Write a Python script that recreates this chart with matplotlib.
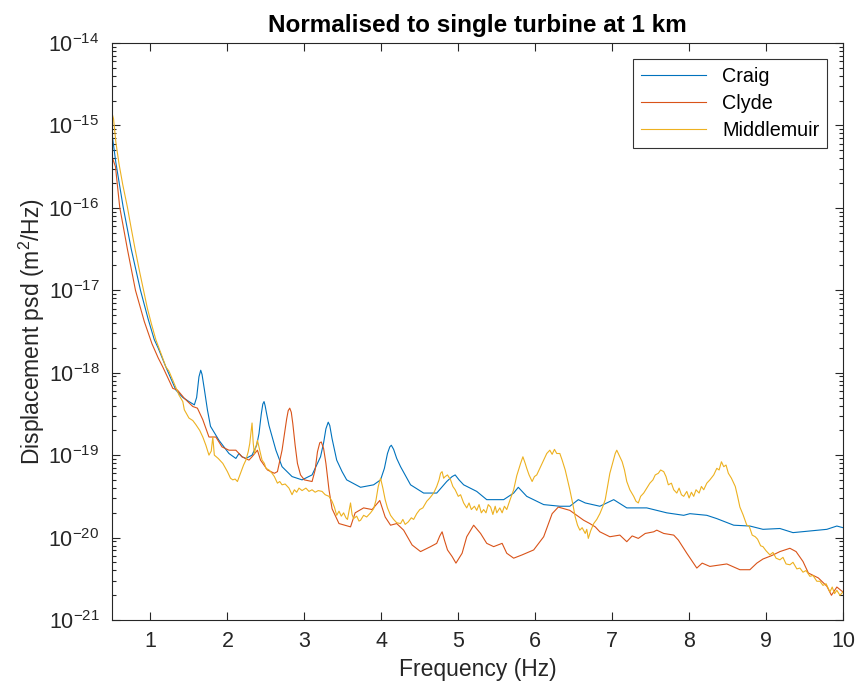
import numpy as np
import matplotlib
matplotlib.use("Agg")
import matplotlib.pyplot as plt
from matplotlib.ticker import FixedLocator, NullFormatter

# values: frequency (Hz) and log10 of psd (m^2/Hz)
craig_f = [0.50, 0.55, 0.645, 0.75, 0.87, 0.97, 1.05, 1.10, 1.20, 1.33, 1.42, 1.50, 1.57, 1.60,
           1.63, 1.653, 1.67, 1.70, 1.74, 1.78, 1.89, 2.02, 2.11, 2.15, 2.19, 2.24, 2.32, 2.38,
           2.41, 2.44, 2.46, 2.476, 2.49, 2.51, 2.54, 2.63, 2.71, 2.84, 2.97, 3.10, 3.21, 3.25,
           3.28, 3.31, 3.33, 3.36, 3.39, 3.42, 3.49, 3.55, 3.73, 3.90, 3.99, 4.04, 4.08, 4.11,
           4.13, 4.16, 4.20, 4.25, 4.38, 4.55, 4.72, 4.85, 4.92, 4.96, 5.01, 5.07, 5.24, 5.37,
           5.59, 5.72, 5.78, 5.89, 6.11, 6.32, 6.45, 6.56, 6.65, 6.84, 7.02, 7.19, 7.45, 7.71,
           7.93, 8.01, 8.23, 8.36, 8.58, 8.79, 8.96, 9.18, 9.35, 9.57, 9.79, 9.92, 10.0]
craig_db = [-15.10, -15.45, -15.99, -16.50, -17.00, -17.35, -17.60, -17.70, -17.93, -18.21, -18.30,
            -18.35, -18.39, -18.30, -18.05, -17.97, -18.02, -18.20, -18.45, -18.65, -18.82, -18.98,
            -19.04, -18.98, -19.02, -19.04, -19.00, -18.88, -18.74, -18.50, -18.38, -18.35, -18.40,
            -18.50, -18.64, -18.94, -19.14, -19.26, -19.30, -19.24, -19.02, -18.85, -18.68, -18.60,
            -18.64, -18.80, -18.93, -19.06, -19.20, -19.30, -19.39, -19.36, -19.30, -19.16, -18.98,
            -18.90, -18.88, -18.93, -19.04, -19.14, -19.36, -19.46, -19.46, -19.32, -19.26, -19.24,
            -19.30, -19.36, -19.44, -19.54, -19.54, -19.46, -19.39, -19.50, -19.60, -19.62, -19.62,
            -19.54, -19.58, -19.62, -19.54, -19.64, -19.64, -19.70, -19.73, -19.71, -19.73, -19.77,
            -19.85, -19.86, -19.90, -19.89, -19.94, -19.92, -19.90, -19.86, -19.88]

clyde_f = [0.50, 0.545, 0.60, 0.70, 0.805, 0.92, 1.02, 1.10, 1.16, 1.29, 1.35, 1.44, 1.55, 1.61,
           1.68, 1.76, 1.85, 1.93, 2.02, 2.11, 2.19, 2.28, 2.32, 2.39, 2.43, 2.52, 2.61, 2.65,
           2.71, 2.74, 2.77, 2.79, 2.81, 2.83, 2.85, 2.88, 2.91, 2.95, 3.00, 3.10, 3.14, 3.17,
           3.20, 3.22, 3.25, 3.28, 3.32, 3.36, 3.45, 3.60, 3.66, 3.77, 3.88, 3.98, 4.05, 4.12,
           4.20, 4.29, 4.40, 4.51, 4.64, 4.72, 4.76, 4.79, 4.82, 4.86, 4.92, 4.97, 5.05, 5.11,
           5.20, 5.29, 5.37, 5.46, 5.57, 5.63, 5.72, 5.83, 5.98, 6.11, 6.22, 6.30, 6.45, 6.54,
           6.63, 6.71, 6.78, 6.84, 6.97, 7.10, 7.19, 7.26, 7.34, 7.43, 7.54, 7.58, 7.67, 7.80,
           7.86, 7.97, 8.10, 8.17, 8.27, 8.49, 8.66, 8.79, 8.88, 8.96, 9.07, 9.18, 9.31, 9.39,
           9.48, 9.55, 9.68, 9.79, 9.85, 9.92, 10.0]
clyde_db = [-15.38, -15.50, -15.99, -16.50, -17.00, -17.38, -17.65, -17.82, -17.93, -18.19, -18.21,
            -18.31, -18.41, -18.43, -18.57, -18.78, -18.78, -18.90, -18.94, -18.94, -19.02, -19.06,
            -19.02, -18.94, -19.06, -19.18, -19.22, -19.20, -18.94, -18.75, -18.56, -18.46, -18.43,
            -18.48, -18.62, -18.88, -19.10, -19.24, -19.30, -19.32, -19.18, -18.96, -18.85, -18.84,
            -18.92, -19.10, -19.42, -19.65, -19.83, -19.87, -19.70, -19.64, -19.66, -19.55, -19.75,
            -19.85, -19.83, -19.91, -20.09, -20.17, -20.11, -20.07, -19.98, -19.93, -20.03, -20.15,
            -20.23, -20.31, -20.19, -19.99, -19.85, -19.95, -20.07, -20.11, -20.07, -20.19, -20.25,
            -20.21, -20.15, -19.99, -19.71, -19.63, -19.67, -19.73, -19.79, -19.83, -19.87, -19.93,
            -19.99, -19.97, -20.05, -19.98, -20.01, -19.95, -19.93, -19.91, -19.95, -19.97, -20.03,
            -20.19, -20.37, -20.31, -20.35, -20.32, -20.39, -20.39, -20.31, -20.26, -20.22, -20.17,
            -20.13, -20.17, -20.29, -20.43, -20.49, -20.59, -20.70, -20.60, -20.66]

middle_f = [0.50, 0.52, 0.55, 0.59, 0.64, 0.70, 0.75, 0.80, 0.86, 0.91, 0.96, 1.01, 1.07, 1.11,
            1.15, 1.20, 1.24, 1.29, 1.33, 1.37, 1.42, 1.44, 1.47, 1.50, 1.55, 1.59, 1.64, 1.68,
            1.72, 1.76, 1.79, 1.81, 1.83, 1.88, 1.94, 2.00, 2.04, 2.07, 2.10, 2.13, 2.17, 2.21,
            2.24, 2.27, 2.29, 2.31, 2.32, 2.335, 2.35, 2.37, 2.39, 2.41, 2.45, 2.48, 2.50, 2.54,
            2.58, 2.61, 2.65, 2.68, 2.71, 2.75, 2.80, 2.84, 2.87, 2.90, 2.93, 2.97, 3.02, 3.06,
            3.10, 3.14, 3.18, 3.23, 3.27, 3.32, 3.36, 3.39, 3.42, 3.45, 3.48, 3.51, 3.54, 3.56,
            3.58, 3.60, 3.62, 3.64, 3.68, 3.71, 3.73, 3.77, 3.81, 3.86, 3.90, 3.93, 3.96, 3.99,
            4.02, 4.05, 4.08, 4.12, 4.16, 4.20, 4.25, 4.28, 4.31, 4.35, 4.39, 4.42, 4.46, 4.50,
            4.54, 4.59, 4.63, 4.68, 4.72, 4.75, 4.77, 4.79, 4.81, 4.83, 4.86, 4.90, 4.93, 4.96,
            5.00, 5.03, 5.07, 5.11, 5.14, 5.17, 5.21, 5.24, 5.27, 5.30, 5.33, 5.36, 5.39, 5.42,
            5.45, 5.48, 5.50, 5.54, 5.57, 5.60, 5.63, 5.67, 5.72, 5.76, 5.81, 5.84, 5.87, 5.89,
            5.92, 5.96, 5.99, 6.02, 6.05, 6.09, 6.12, 6.15, 6.19, 6.22, 6.25, 6.28, 6.32, 6.35,
            6.39, 6.42, 6.45, 6.49, 6.52, 6.55, 6.58, 6.61, 6.65, 6.67, 6.69, 6.72, 6.76, 6.80,
            6.84, 6.88, 6.91, 6.94, 6.97, 7.01, 7.04, 7.06, 7.09, 7.13, 7.16, 7.19, 7.23, 7.28,
            7.31, 7.34, 7.37, 7.41, 7.45, 7.49, 7.53, 7.56, 7.60, 7.63, 7.67, 7.70, 7.73, 7.77,
            7.80, 7.84, 7.87, 7.90, 7.93, 7.97, 8.00, 8.03, 8.06, 8.09, 8.13, 8.16, 8.19, 8.23,
            8.27, 8.32, 8.36, 8.39, 8.42, 8.45, 8.48, 8.51, 8.55, 8.60, 8.63, 8.66, 8.70, 8.75,
            8.78, 8.82, 8.86, 8.89, 8.93, 8.96, 9.00, 9.05, 9.09, 9.13, 9.18, 9.22, 9.26, 9.31,
            9.35, 9.40, 9.44, 9.48, 9.52, 9.57, 9.61, 9.66, 9.70, 9.74, 9.78, 9.83, 9.86, 9.89,
            9.92, 9.96, 10.0]
middle_db = [-14.85, -14.92, -15.20, -15.46, -15.72, -15.99, -16.25, -16.50, -16.78, -17.00, -17.22,
             -17.40, -17.60, -17.70, -17.80, -17.93, -17.98, -18.09, -18.18, -18.27, -18.35, -18.45,
             -18.50, -18.55, -18.58, -18.63, -18.70, -18.78, -18.88, -19.00, -18.95, -18.78, -19.00,
             -19.04, -19.10, -19.20, -19.28, -19.30, -19.29, -19.32, -19.22, -19.12, -19.06, -18.96,
             -18.86, -18.70, -18.61, -18.85, -18.98, -18.90, -18.82, -18.90, -19.06, -19.10, -19.16,
             -19.18, -19.22, -19.26, -19.34, -19.32, -19.36, -19.35, -19.40, -19.48, -19.42, -19.45,
             -19.40, -19.43, -19.40, -19.44, -19.42, -19.45, -19.43, -19.44, -19.48, -19.50, -19.56,
             -19.63, -19.73, -19.68, -19.74, -19.70, -19.76, -19.78, -19.68, -19.58, -19.72, -19.77,
             -19.74, -19.80, -19.79, -19.73, -19.75, -19.70, -19.65, -19.55, -19.38, -19.28, -19.40,
             -19.54, -19.64, -19.73, -19.78, -19.82, -19.83, -19.78, -19.84, -19.81, -19.76, -19.78,
             -19.71, -19.66, -19.64, -19.56, -19.52, -19.46, -19.38, -19.30, -19.22, -19.20, -19.28,
             -19.26, -19.24, -19.30, -19.38, -19.42, -19.50, -19.48, -19.58, -19.64, -19.58, -19.66,
             -19.62, -19.67, -19.60, -19.70, -19.66, -19.70, -19.60, -19.63, -19.72, -19.62, -19.70,
             -19.64, -19.70, -19.62, -19.66, -19.55, -19.42, -19.25, -19.10, -19.02, -19.10, -19.16,
             -19.24, -19.32, -19.26, -19.24, -19.18, -19.10, -19.04, -18.98, -18.94, -18.99, -18.93,
             -18.98, -18.98, -19.06, -19.18, -19.30, -19.42, -19.60, -19.75, -19.85, -19.91, -19.88,
             -19.95, -19.90, -20.01, -19.92, -19.83, -19.78, -19.71, -19.62, -19.54, -19.38, -19.22,
             -19.08, -18.98, -18.94, -19.00, -19.08, -19.18, -19.32, -19.42, -19.50, -19.56, -19.58,
             -19.50, -19.46, -19.40, -19.34, -19.30, -19.24, -19.22, -19.18, -19.20, -19.26, -19.36,
             -19.34, -19.42, -19.46, -19.40, -19.48, -19.50, -19.44, -19.52, -19.45, -19.50, -19.42,
             -19.46, -19.38, -19.42, -19.34, -19.30, -19.24, -19.16, -19.18, -19.08, -19.14, -19.12,
             -19.22, -19.28, -19.38, -19.50, -19.63, -19.72, -19.85, -19.86, -19.97, -19.99, -20.02,
             -20.10, -20.11, -20.16, -20.21, -20.18, -20.25, -20.27, -20.24, -20.32, -20.33, -20.30,
             -20.38, -20.37, -20.42, -20.40, -20.47, -20.46, -20.53, -20.53, -20.58, -20.56, -20.66,
             -20.60, -20.68, -20.64, -20.70, -20.66]

plt.rcParams['font.family'] = ['Liberation Sans', 'DejaVu Sans']
plt.rcParams['mathtext.fontset'] = 'custom'
plt.rcParams['mathtext.rm'] = 'Liberation Sans'
plt.rcParams['mathtext.it'] = 'Liberation Sans:italic'

fig = plt.figure(figsize=(8.58, 6.89), dpi=100)
ax = fig.add_axes([112 / 858, 1 - 620 / 689, (843 - 112) / 858, (620 - 43) / 689])

ax.plot(craig_f, 10.0 ** np.array(craig_db), color="#0072BD", lw=0.8, label="Craig")
ax.plot(clyde_f, 10.0 ** np.array(clyde_db), color="#D95319", lw=0.8, label="Clyde")
ax.plot(middle_f, 10.0 ** np.array(middle_db), color="#EDB120", lw=0.8, label="Middlemuir")

ax.set_yscale("log")
ax.set_xlim(0.5, 10)
ax.set_ylim(1e-21, 1e-14)
ax.set_xticks(range(1, 11))
decades = np.arange(-21, -13)
ax.yaxis.set_major_locator(FixedLocator(10.0 ** decades))
minor = [m * 10.0 ** d for d in decades[:-1] for m in range(2, 10)]
ax.yaxis.set_minor_locator(FixedLocator(minor))
ax.yaxis.set_minor_formatter(NullFormatter())
ax.set_yticklabels(["$10^{%d}$" % d for d in decades])

axcol = "#262626"
for s in ax.spines.values():
    s.set_color(axcol)
    s.set_linewidth(0.8)
ax.tick_params(which="both", direction="in", top=True, right=True, colors=axcol,
               labelsize=15.5, width=0.8)
ax.tick_params(which="major", length=6)
ax.tick_params(which="minor", length=3)
ax.tick_params(axis="x", pad=8)
ax.tick_params(axis="y", pad=9)

ax.set_xlabel("Frequency (Hz)", fontsize=16.5, color=axcol, labelpad=4)
ax.set_ylabel("Displacement psd (m$^2$/Hz)", fontsize=16.5, color=axcol, labelpad=1)
ax.set_title("Normalised to single turbine at 1 km", fontsize=17.5, fontweight="bold", pad=8)

leg = ax.legend(loc="upper right", fontsize=14.2, frameon=True, fancybox=False,
                edgecolor="black", handlelength=3.3, borderaxespad=0.8, labelspacing=0.42)
leg.get_frame().set_linewidth(0.8)

fig.savefig("out.png", dpi=100)
